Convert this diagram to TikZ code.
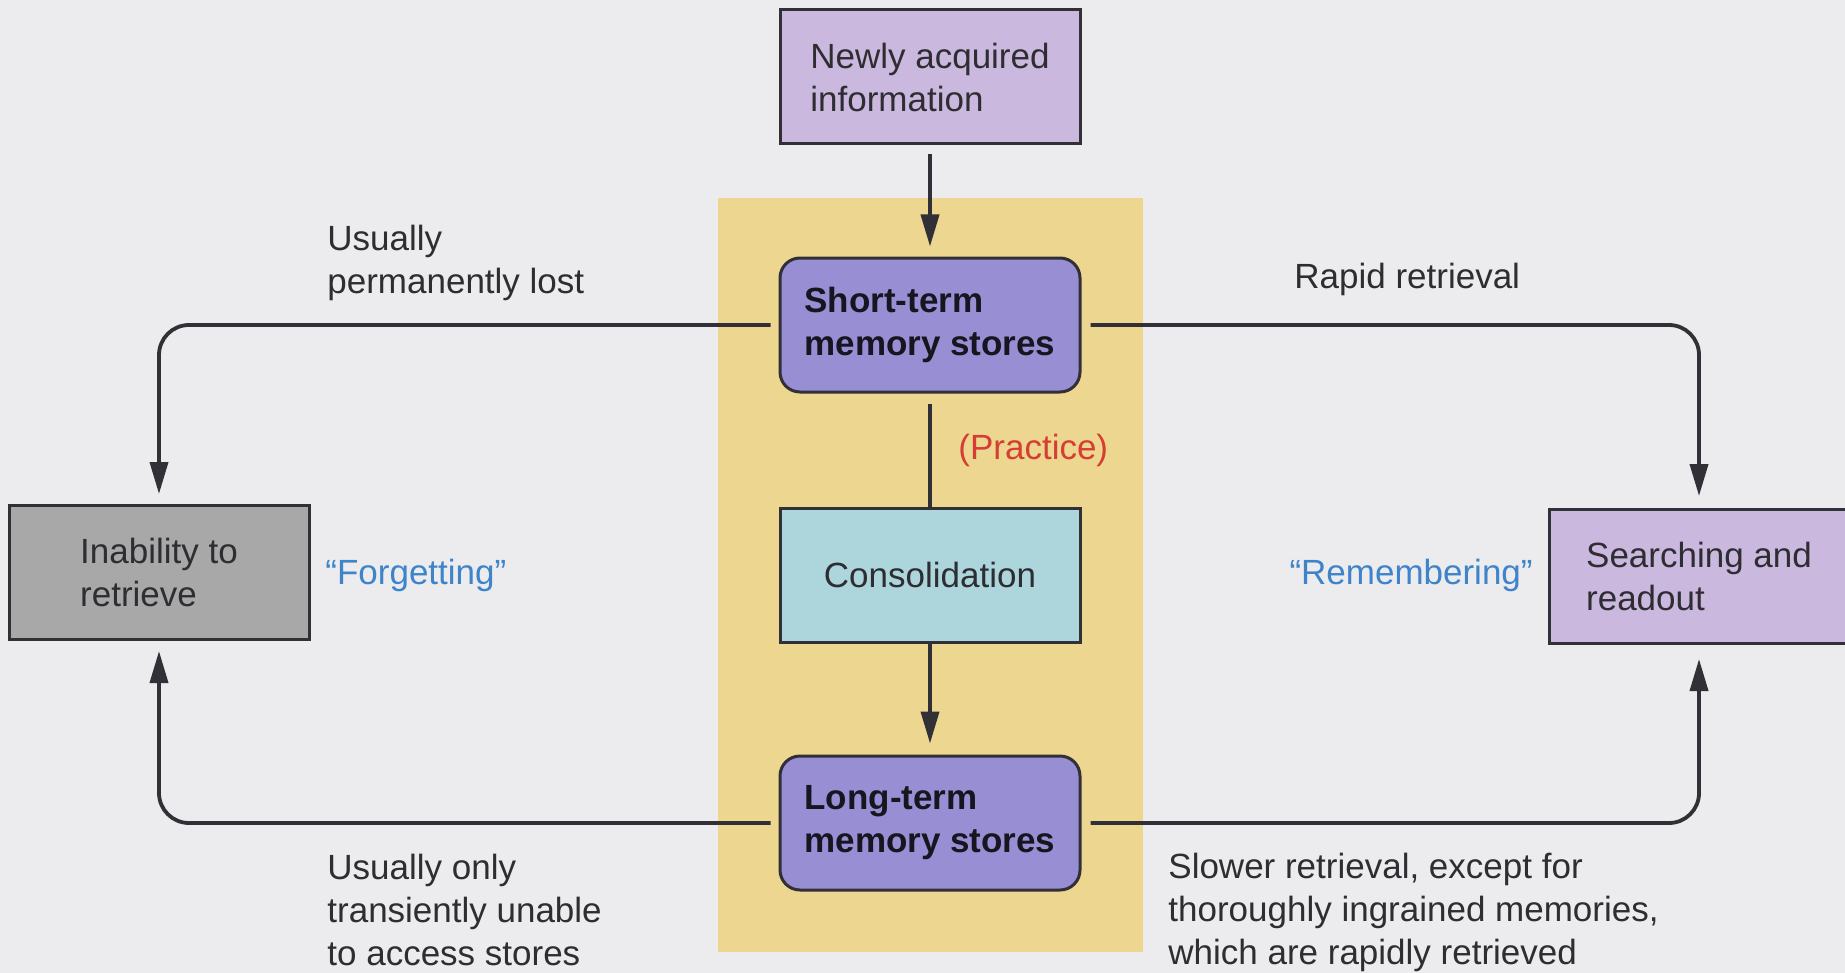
\documentclass[tikz,border=0pt]{standalone}
\usepackage{fontspec}
\setmainfont{Liberation Sans}
\usetikzlibrary{arrows.meta}
\definecolor{pagebg}{RGB}{236,236,238}
\definecolor{yel}{RGB}{237,214,143}
\definecolor{lav}{RGB}{203,184,223}
\definecolor{purp}{RGB}{152,142,212}
\definecolor{cyanbox}{RGB}{172,214,220}
\definecolor{graybox}{RGB}{168,168,168}
\definecolor{ink}{RGB}{45,45,50}
\definecolor{edge}{RGB}{50,48,55}
\definecolor{prred}{RGB}{212,62,52}
\definecolor{qblue}{RGB}{62,132,202}
\begin{document}
\begin{tikzpicture}[x=0.5pt,y=-0.5pt,
  txt/.style={font=\fontsize{17.5}{21.5}\selectfont, text=ink},
  box/.style={txt, draw=edge, line width=1.5pt, minimum width=150pt, minimum height=67pt, align=left, inner sep=0pt},
  rbox/.style={box, rounded corners=10pt, font=\fontsize{17.5}{21.5}\selectfont\bfseries, text=black!85!purp},
  lab/.style={txt, inner sep=0pt, align=left},
  ln/.style={draw=edge, line width=1.9pt},
  arr/.style={ln, -{Triangle[length=16pt,width=9pt]}},
  elbow/.style={rounded corners=15pt}
]
\useasboundingbox (0,0) rectangle (1845,973);
\fill[pagebg] (0,0) rectangle (1845,973);
\fill[yel] (718,198) rectangle (1143,952);

\node[box, fill=lav] (newly) at (930,77) {Newly acquired\\information};
\node[rbox, fill=purp] (st) at (930,325) {Short-term\\memory stores};
\node[box, fill=cyanbox] (cons) at (930,575) {Consolidation};
\node[rbox, fill=purp] (lt) at (930,823) {Long-term\\memory stores};
\node[box, fill=graybox] (inab) at (159,572.5) {Inability to\\retrieve};
\node[box, fill=lav] (srch) at (1699,576.5) {Searching and\\readout};

\node[lab, anchor=west] (ul) at (327,263) {Usually\\permanently lost};
\node[lab, anchor=west] (rr) at (1294,279) {Rapid retrieval};
\node[lab, anchor=west, text=prred] (prac) at (958,450) {(Practice)};
\node[lab, anchor=west, text=qblue] (forg) at (325,575) {“Forgetting”};
\node[lab, anchor=east, text=qblue] (rem) at (1533,575) {“Remembering”};
\node[lab, anchor=west] (uo) at (327,910) {Usually only\\transiently unable\\to access stores};
\node[lab, anchor=west] (sr) at (1168,912) {Slower retrieval, except for\\thoroughly ingrained memories,\\which are rapidly retrieved};

\draw[arr, shorten <=4.5pt, shorten >=5pt] (newly) -- (st);
\draw[ln, shorten <=5pt] (st) -- (cons);
\draw[arr, shorten >=5.5pt] (cons) -- (lt);
\draw[arr, elbow, shorten <=4pt, shorten >=5pt] (st.west) -| (inab.north);
\draw[arr, elbow, shorten <=4pt, shorten >=5pt] (lt.west) -| (inab.south);
\draw[arr, elbow, shorten <=4.5pt, shorten >=6pt] (st.east) -| (srch.north);
\draw[arr, elbow, shorten <=4.5pt, shorten >=7pt] (lt.east) -| (srch.south);
\end{tikzpicture}
\end{document}
